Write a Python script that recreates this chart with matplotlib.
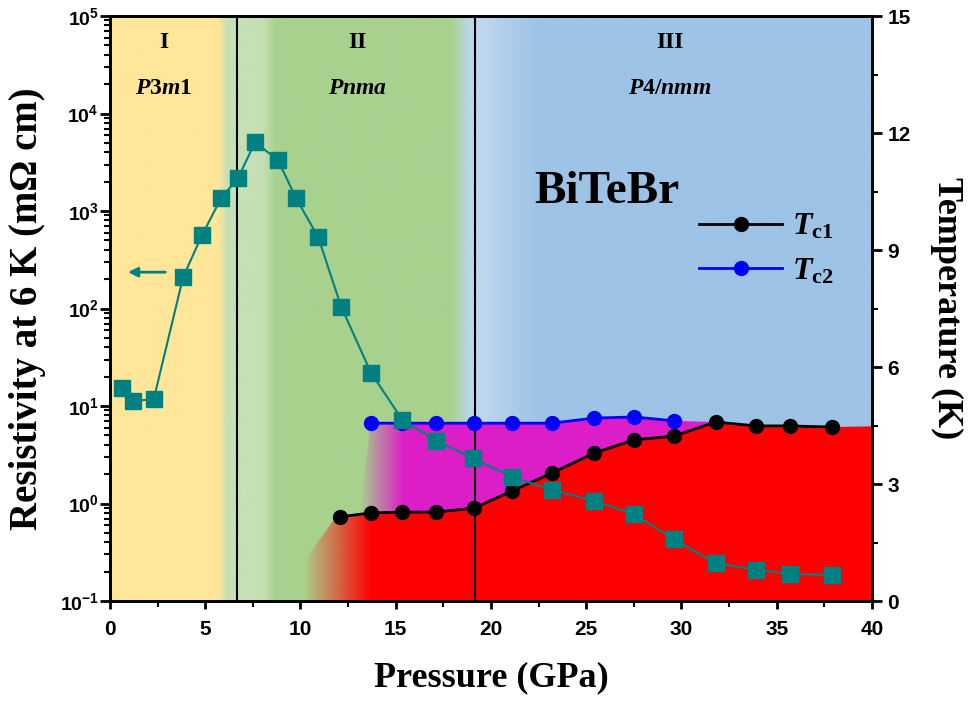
import numpy as np
import matplotlib
matplotlib.use('Agg')
import matplotlib.pyplot as plt
from matplotlib.patches import Polygon
from matplotlib.ticker import MultipleLocator, LogLocator, NullFormatter
from matplotlib.colors import to_rgb

plt.rcParams['font.family'] = ['Liberation Sans', 'DejaVu Sans']
plt.rcParams['mathtext.fontset'] = 'custom'
plt.rcParams['mathtext.rm'] = 'Liberation Serif:bold'
plt.rcParams['mathtext.it'] = 'Liberation Serif:italic:bold'
plt.rcParams['mathtext.bf'] = 'Liberation Serif:bold'

# resistivity at 6 K (mOhm cm) vs pressure
p_rho = [0.63, 1.2, 2.3, 3.84, 4.83, 5.83, 6.73, 7.62, 8.83, 9.77, 10.93, 12.14, 13.71,
         15.35, 17.13, 19.08, 21.12, 23.2, 25.4, 27.5, 29.6, 31.8, 33.9, 35.7, 37.9]
rho = [15.2, 11.2, 11.8, 210, 565, 1350, 2190, 5100, 3300, 1350, 540, 104, 21.8,
       7.2, 4.4, 2.9, 1.87, 1.38, 1.07, 0.78, 0.43, 0.245, 0.21, 0.19, 0.185]

# superconducting transitions
p_tc1 = [12.1, 13.7, 15.35, 17.1, 19.1, 21.1, 23.2, 25.4, 27.5, 29.6, 31.8, 33.9, 35.7, 37.9]
tc1 = [2.16, 2.26, 2.28, 2.28, 2.38, 2.82, 3.28, 3.79, 4.13, 4.23, 4.59, 4.49, 4.49, 4.46]
p_tc2 = [13.7, 15.35, 17.1, 19.1, 21.1, 23.2, 25.4, 27.5, 29.6]
tc2 = [4.56, 4.56, 4.56, 4.56, 4.56, 4.56, 4.69, 4.72, 4.62]

# phase boundaries and labels
bounds = [6.67, 19.15]
phase_p = [2.8, 13.0, 29.4]
phase_num = ['I', 'II', 'III']
phase_group = [r'$\mathit{P}\mathrm{3}\mathit{m}\mathrm{1}$', r'$\mathit{Pnma}$', r'$\mathit{P}\mathrm{4/}\mathit{nmm}$']

# background colour stops across pressure
bg_p = [0, 5.67, 6.15, 8.0, 8.67, 17.9, 18.9, 19.6, 22.5, 40]
bg_c = ['#FFE699', '#FFE699', '#C5E0B4', '#C5E0B4', '#A9D18E', '#A9D18E',
        '#BDD7EE', '#BDD7EE', '#9DC3E6', '#9DC3E6']

# shaded SC regions (extra outline points)
red_left_p = [10.15, 10.15, 11.67]
red_left_t = [0, 1.0, 2.03]
red_end_t = 4.48
mag_left_p = [13.14, 13.66]
mag_left_t = [2.33, 4.44]

teal = '#008080'

fig = plt.figure(figsize=(9.68, 7.06), dpi=100)
ax = fig.add_axes([0.1136, 0.1487, 0.7872, 0.8286])
ax2 = ax.twinx()

xs = np.linspace(0, 40, 1200)
rgb = np.array([to_rgb(c) for c in bg_c])
img = np.stack([np.interp(xs, bg_p, rgb[:, k]) for k in range(3)], axis=-1)[None, :, :]
ax.imshow(img, extent=[0, 40, 0, 15], aspect='auto', origin='lower', zorder=0)

# red region under Tc1
p_tc1a = np.array(p_tc1)
tc1a = np.array(tc1)
red_p = np.concatenate([red_left_p, p_tc1a, [40, 40]])
red_t = np.concatenate([red_left_t, tc1a, [red_end_t, 0]])
red_poly = Polygon(np.column_stack([red_p, red_t]), closed=True, facecolor='none',
                   edgecolor='none', transform=ax.transData)
ax.add_patch(red_poly)
rgba = np.zeros((1, len(xs), 4))
rgba[..., 0] = 1.0
rgba[..., 3] = np.clip((xs - 10.15) / (13.7 - 10.15), 0, 1)
im = ax.imshow(rgba, extent=[0, 40, 0, 15], aspect='auto', origin='lower', zorder=1)
im.set_clip_path(red_poly)

# magenta region between Tc1 and Tc2
m = (p_tc1a >= p_tc2[0]) & (p_tc1a <= p_tc2[-1])
peak = np.argmax(tc1a)
mag_p = np.concatenate([mag_left_p, p_tc2, [p_tc1a[peak]], p_tc1a[m][::-1]])
mag_t = np.concatenate([mag_left_t, tc2, [tc1a[peak]], tc1a[m][::-1]])
mag_poly = Polygon(np.column_stack([mag_p, mag_t]), closed=True, facecolor='none',
                   edgecolor='none', transform=ax.transData)
ax.add_patch(mag_poly)
rgba2 = np.zeros((1, len(xs), 4))
rgba2[..., :3] = to_rgb('#DC1EC8')
rgba2[..., 3] = np.clip((xs - 13.1) / (15.4 - 13.1), 0, 1)
im2 = ax.imshow(rgba2, extent=[0, 40, 0, 15], aspect='auto', origin='lower', zorder=1)
im2.set_clip_path(mag_poly)

for b in bounds:
    ax.axvline(b, color='k', lw=1.5, zorder=3)

ax.plot(p_tc1, tc1, 'o-', color='k', ms=10, lw=2, zorder=4, label=r'$\mathit{T}_{\mathrm{c1}}$')
ax.plot(p_tc2, tc2, 'o-', color='#0000FF', ms=10, lw=2, zorder=4, label=r'$\mathit{T}_{\mathrm{c2}}$')

ax2.semilogy(p_rho, rho, 's-', color=teal, ms=11, lw=1.5)
ax2.annotate('', xy=(0.8, 236), xytext=(3.05, 236),
             arrowprops=dict(arrowstyle='-|>', color=teal, lw=2, mutation_scale=14))

for p, n, g in zip(phase_p, phase_num, phase_group):
    ax.text(p, 14.33, n, ha='center', va='center', fontsize=17, fontweight='bold',
            fontfamily='Liberation Serif')
    ax.text(p, 13.15, g, ha='center', va='center', fontsize=17)
ax.text(26.1, 10.5, 'BiTeBr', ha='center', va='center', fontsize=34, fontweight='bold',
        fontfamily='Liberation Serif')

leg = ax.legend(loc='upper left', bbox_to_anchor=(0.773, 0.665), frameon=False, fontsize=23,
                handlelength=2.6, handletextpad=0.3, labelspacing=0.45, borderpad=0,
                borderaxespad=0)

ax.set_xlim(0, 40)
ax.set_ylim(0, 15)
ax2.set_ylim(0.1, 1e5)

ax.yaxis.tick_right()
ax.yaxis.set_label_position('right')
ax2.yaxis.tick_left()
ax2.yaxis.set_label_position('left')

ax.xaxis.set_major_locator(MultipleLocator(5))
ax.xaxis.set_minor_locator(MultipleLocator(2.5))
ax.yaxis.set_major_locator(MultipleLocator(3))
ax.yaxis.set_minor_locator(MultipleLocator(1.5))
ax2.yaxis.set_major_locator(LogLocator(base=10, numticks=20))
ax2.yaxis.set_minor_locator(LogLocator(base=10, subs=np.arange(2, 10), numticks=20))
ax2.yaxis.set_minor_formatter(NullFormatter())

for a in (ax, ax2):
    for s in a.spines.values():
        s.set_linewidth(2.0)

ax.tick_params(axis='x', which='major', direction='out', length=6, width=2, pad=8, labelsize=15)
ax.tick_params(axis='x', which='minor', direction='out', length=4, width=1.5)
ax.tick_params(axis='y', which='major', direction='out', length=7, width=2, pad=4, labelsize=15)
ax.tick_params(axis='y', which='minor', direction='out', length=4, width=1.5)
ax2.tick_params(axis='y', which='major', direction='out', length=7, width=2, pad=1, labelsize=14)
ax2.tick_params(axis='y', which='minor', direction='out', length=4.5, width=1.5)
for lab in ax.get_xticklabels() + ax.get_yticklabels() + ax2.get_yticklabels():
    lab.set_fontweight('bold')

ax.set_xlabel('Pressure (GPa)', fontfamily='Liberation Serif', fontweight='bold',
              fontsize=26, labelpad=16)
ax.set_ylabel('Temperature (K)', fontfamily='Liberation Serif', fontweight='bold',
              fontsize=26, rotation=270, va='bottom', labelpad=14)
ax2.set_ylabel('Resistivity at 6 K (m\u03a9 cm)', fontfamily='Liberation Serif',
               fontweight='bold', fontsize=28, labelpad=10)

fig.savefig('out.png', dpi=100)
